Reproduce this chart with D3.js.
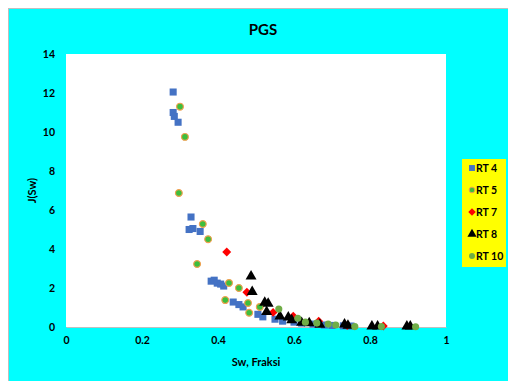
<!DOCTYPE html>
<html>
<head>
<meta charset="utf-8">
<script src="https://cdn.jsdelivr.net/npm/d3@7"></script>
<style>
  body { margin: 0; background: #fff; }
  text { font-family: Lato, "Open Sans", sans-serif; font-weight: bold; fill: #000; }
</style>
</head>
<body>
<svg id="chart" width="508" height="381"></svg>
<script>
// values: [Sw, J(Sw)]
const rt4 = [
  [0.282, 12.05], [0.282, 11.0], [0.285, 10.8], [0.295, 10.5],
  [0.329, 5.64], [0.324, 5.0], [0.334, 5.05], [0.353, 4.9],
  [0.382, 2.35], [0.390, 2.4], [0.398, 2.25], [0.407, 2.2], [0.415, 2.1],
  [0.440, 1.28], [0.455, 1.15], [0.466, 1.03],
  [0.505, 0.65], [0.518, 0.52], [0.55, 0.4], [0.57, 0.3], [0.60, 0.25],
  [0.62, 0.2], [0.65, 0.15], [0.68, 0.1], [0.70, 0.08], [0.73, 0.06], [0.75, 0.05]
];
const rt5 = [
  [0.300, 11.3], [0.313, 9.75], [0.297, 6.87], [0.360, 5.28], [0.374, 4.5],
  [0.345, 3.23], [0.429, 2.26], [0.455, 2.0], [0.419, 1.38], [0.479, 1.23],
  [0.482, 0.73], [0.510, 1.03]
];
const rt7 = [
  [0.423, 3.85], [0.476, 1.78], [0.545, 0.75], [0.598, 0.55], [0.665, 0.3],
  [0.740, 0.08], [0.835, 0.05]
];
const rt8 = [
  [0.487, 2.6], [0.490, 1.8], [0.523, 1.25], [0.532, 1.2], [0.528, 0.78],
  [0.563, 0.55], [0.585, 0.5], [0.594, 0.35], [0.62, 0.22], [0.64, 0.2],
  [0.668, 0.12], [0.733, 0.14], [0.742, 0.07], [0.805, 0.03], [0.82, 0.04],
  [0.897, 0.03], [0.906, 0.03]
];
const rt10 = [
  [0.56, 0.92], [0.61, 0.45], [0.63, 0.25], [0.66, 0.2], [0.69, 0.15],
  [0.71, 0.1], [0.76, 0.02], [0.83, 0.02], [0.92, 0.01]
];
const xTicks = [0, 0.2, 0.4, 0.6, 0.8, 1];
const yTicks = [0, 2, 4, 6, 8, 10, 12, 14];
const seriesNames = ['RT 4', 'RT 5', 'RT 7', 'RT 8', 'RT 10'];

const series = [
  { name: seriesNames[0], data: rt4, shape: d3.symbolSquare, size: 50, rot: 0, fill: '#4472C4', stroke: 'none' },
  { name: seriesNames[1], data: rt5, shape: d3.symbolCircle, size: 36, rot: 0, fill: '#3DBE3D', stroke: '#F0A050' },
  { name: seriesNames[2], data: rt7, shape: d3.symbolSquare, size: 40, rot: 45, fill: '#FF0000', stroke: 'none' },
  { name: seriesNames[3], data: rt8, shape: d3.symbolTriangle, size: 52, rot: 0, fill: '#000000', stroke: 'none' },
  { name: seriesNames[4], data: rt10, shape: d3.symbolCircle, size: 40, rot: 0, fill: '#70AD47', stroke: 'none' }
];

const svg = d3.select('#chart');
const margin = { left: 66, right: 446, top: 54, bottom: 327 };

// chart area background
svg.append('rect')
  .attr('x', 8.5).attr('y', 8.5)
  .attr('width', 506).attr('height', 380)
  .attr('fill', '#00FFFF')
  .attr('stroke', '#BFBFBF');

svg.append('rect')
  .attr('x', margin.left).attr('y', margin.top)
  .attr('width', margin.right - margin.left)
  .attr('height', margin.bottom - margin.top)
  .attr('fill', '#fff');

const x = d3.scaleLinear().domain([0, 1]).range([margin.left, margin.right]);
const y = d3.scaleLinear().domain([0, 14]).range([margin.bottom, margin.top]);

const xAxis = svg.append('g')
  .attr('transform', `translate(0, ${ margin.bottom })`)
  .call(d3.axisBottom(x).tickValues(xTicks).tickFormat(d3.format('')).tickSize(0).tickPadding(10));
xAxis.select('.domain').attr('stroke', '#BFBFBF');
xAxis.selectAll('text').style('font-size', '10.5px');

const yAxis = svg.append('g')
  .attr('transform', `translate(${ margin.left }, 0)`)
  .call(d3.axisLeft(y).tickValues(yTicks).tickSize(0).tickPadding(11));
yAxis.select('.domain').remove();
yAxis.selectAll('text').style('font-size', '10.5px');

svg.append('text')
  .attr('x', 263).attr('y', 35)
  .attr('text-anchor', 'middle')
  .style('font-size', '15px')
  .text('PGS');

svg.append('text')
  .attr('x', (margin.left + margin.right) / 2).attr('y', 366)
  .attr('text-anchor', 'middle')
  .style('font-size', '11px')
  .text('Sw, Fraksi');

svg.append('text')
  .attr('transform', `translate(36, ${ (margin.top + margin.bottom) / 2 }) rotate(-90)`)
  .attr('text-anchor', 'middle')
  .style('font-size', '11px')
  .text('J(Sw)');

// points
series.forEach((s) => {
  svg.append('g')
    .selectAll('path')
    .data(s.data)
    .enter().append('path')
    .attr('transform', (d) => `translate(${ x(d[0]) }, ${ y(d[1]) }) rotate(${ s.rot })`)
    .attr('d', d3.symbol().type(s.shape).size(s.size))
    .attr('fill', s.fill)
    .attr('stroke', s.stroke)
    .attr('stroke-width', 1.2);
});

// legend
const legend = svg.append('g').attr('transform', 'translate(462, 159)');
legend.append('rect')
  .attr('width', 44).attr('height', 108)
  .attr('fill', '#FFFF00');

const row = legend.selectAll('g.item')
  .data(series)
  .enter().append('g')
  .attr('class', 'item')
  .attr('transform', (d, i) => `translate(0, ${ 9 + i * 22 })`);

row.append('path')
  .attr('transform', (d) => `translate(10, 0) rotate(${ d.rot })`)
  .attr('d', (d) => d3.symbol().type(d.shape).size(d.size * 0.7)())
  .attr('fill', (d) => d.fill)
  .attr('stroke', (d) => d.stroke)
  .attr('stroke-width', 1);

row.append('text')
  .attr('x', 14).attr('y', 4)
  .style('font-size', '10.5px')
  .text((d) => d.name);
</script>
</body>
</html>
